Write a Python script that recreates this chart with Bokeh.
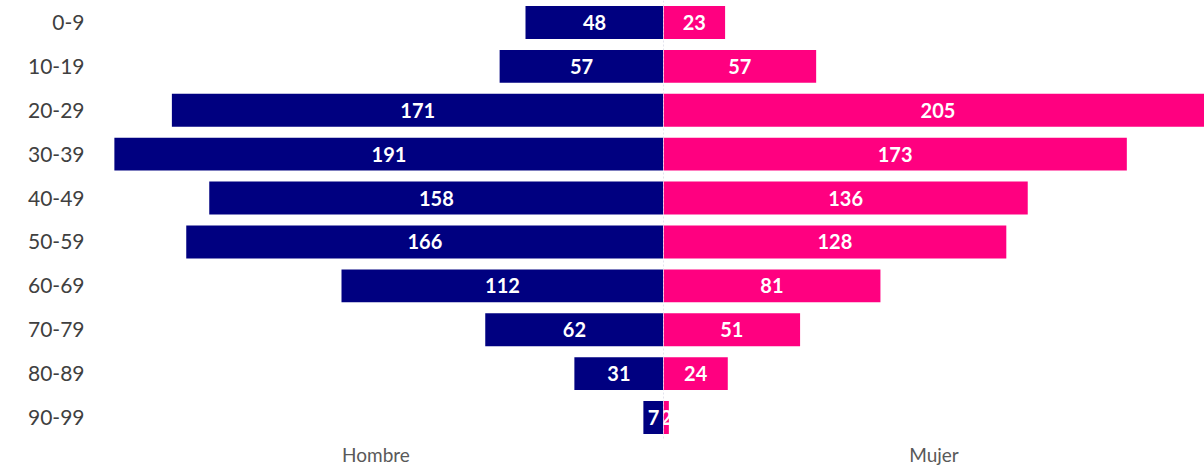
from bokeh.plotting import figure
from bokeh.models import FactorRange, Range1d, Span, ColumnDataSource, FixedTicker
from bokeh.layouts import row
from bokeh.core.properties import value
from bokeh.embed import file_html
from bokeh.resources import INLINE

# ---- data ----
age_groups = ["0-9", "10-19", "20-29", "30-39", "40-49", "50-59",
              "60-69", "70-79", "80-89", "90-99"]
hombre = [48, 57, 171, 191, 158, 166, 112, 62, 31, 7]
mujer = [23, 57, 205, 173, 136, 128, 81, 51, 24, 2]
side_labels = ["Hombre", "Mujer"]

NAVY = "#000080"
PINK = "#FF0080"
FONT = "Lato"
H = 468

y_range = FactorRange(factors=list(reversed(age_groups)))

src_m = ColumnDataSource(dict(
    y=age_groups,
    left=[-v for v in hombre],
    mid=[-v / 2 for v in hombre],
    txt=[str(v) for v in hombre],
))
src_f = ColumnDataSource(dict(
    y=age_groups,
    right=mujer,
    mid=[v / 2 for v in mujer],
    txt=[str(v) for v in mujer],
))


def style(p, label):
    p.outline_line_color = None
    p.xgrid.visible = False
    p.ygrid.visible = False
    p.background_fill_color = "white"
    p.border_fill_color = "white"
    ax = p.xaxis[0]
    ax.ticker = FixedTicker(ticks=[])
    ax.axis_line_color = None
    ax.major_tick_line_color = None
    ax.minor_tick_line_color = None
    ax.major_label_standoff = 0
    ax.major_tick_out = 0
    ax.major_tick_in = 0
    ax.axis_label = label
    ax.axis_label_standoff = 3
    ax.axis_label_text_font = FONT
    ax.axis_label_text_font_style = "normal"
    ax.axis_label_text_font_size = "19px"
    ax.axis_label_text_color = "#595959"


# ---- left (Hombre) ----
p1 = figure(width=663, height=H, y_range=y_range, x_range=Range1d(-200, 0),
            output_backend="svg", toolbar_location=None,
            min_border_left=88, min_border_right=0, min_border_top=0,
            min_border_bottom=0)
style(p1, side_labels[0])
p1.hbar(y="y", left="left", right=0, height=0.75, source=src_m,
        fill_color=NAVY, line_color=None)
p1.text(x="mid", y="y", text="txt", source=src_m, text_align="center",
        text_baseline="middle", text_color="white",
        text_font=value(FONT), text_font_style="bold", text_font_size="20px")
ya = p1.yaxis[0]
ya.axis_line_color = None
ya.major_tick_line_color = None
ya.minor_tick_line_color = None
ya.major_tick_out = 0
ya.major_label_standoff = 4
ya.major_label_text_font = FONT
ya.major_label_text_font_size = "21px"
ya.major_label_text_color = "#404040"

# ---- right (Mujer) ----
p2 = figure(width=541, height=H, y_range=y_range, x_range=Range1d(0, 202),
            output_backend="svg", toolbar_location=None,
            min_border_left=0, min_border_right=0, min_border_top=0,
            min_border_bottom=0)
style(p2, side_labels[1])
p2.yaxis.visible = False
p2.add_layout(Span(location=0, dimension="height", line_color="#c8c8dc",
                   line_dash="2 2", line_width=1, level="underlay"))
p2.hbar(y="y", left=0, right="right", height=0.75, source=src_f,
        fill_color=PINK, line_color=None)
p2.text(x="mid", y="y", text="txt", source=src_f, text_align="center",
        text_baseline="middle", text_color="white",
        text_font=value(FONT), text_font_style="bold", text_font_size="20px")

layout = row(p1, p2, spacing=0)

open("out.html", "w").write(file_html(layout, INLINE))
